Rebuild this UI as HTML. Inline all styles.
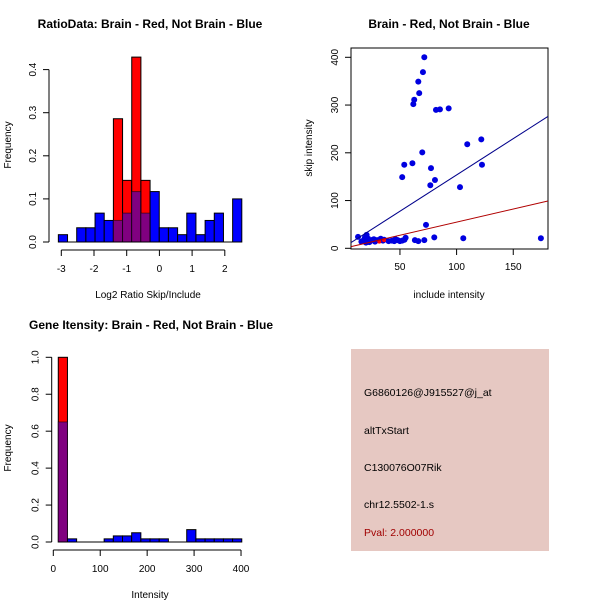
<!DOCTYPE html>
<html><head><meta charset="utf-8"><style>
body{margin:0;background:#fff}
svg{display:block;font-family:"Liberation Sans",sans-serif}
</style></head><body>
<svg id="c" width="600" height="600" xmlns="http://www.w3.org/2000/svg">
<rect width="600" height="600" fill="#fff"/>
<g id="g1"></g>
<g id="g2"></g>
<g id="g3"></g>
<g>
<rect x="351" y="349" width="198" height="202" fill="#e6c8c2"/>
<text x="364" y="396" font-size="10.5">G6860126@J915527@j_at</text>
<text x="364" y="434" font-size="10.5">altTxStart</text>
<text x="364" y="471" font-size="10.5">C130076O07Rik</text>
<text x="364" y="508" font-size="10.5">chr12.5502-1.s</text>
<text x="364" y="536" font-size="10.5" fill="#a00000">Pval: 2.000000</text>
</g>
</svg>
<script>
// ---- chart 1 data
const ratioBlue=[0.017,0,0.033,0.033,0.067,0.05,0.05,0.067,0.117,0.067,0.117,0.033,0.033,0.017,0.067,0.017,0.05,0.067,0,0.1];
const ratioRed=[0,0,0,0,0,0,0.286,0.143,0.429,0.143,0,0,0,0,0,0,0,0,0,0];
const ratioXTicks=[-3,-2,-1,0,1,2];
const ratioYTicks=[0,0.1,0.2,0.3,0.4];
// ---- chart 2 data
const incX=[13,20.6,71.5,70.3,66.2,67,62.6,61.8,81.8,85.3,93,121.8,109.4,69.7,61,53.8,52,77.4,80.9,76.8,122.4,103,73,80.3,71.5,63.2,66.2,105.9,174.4,16,18,20,22,24,26,28,30,33,36,40,43,46,48,50,52,54,55,19,23,27,35,45];
const skipY=[24,28,400,369,349,325,311,302,290,291,293,228,218,201,178,175,149,168,143,132,175,128,49,23,17,17,15,21,21,14,17,12,20,16,18,14,17,20,18,15,16,19,17,15,16,18,22,22,13,19,16,15];
const redX=[31.8,36];
const redY=[14,17];
const scatXTicks=[50,100,150];
const scatYTicks=[0,100,200,300,400];
const blueFit=[1.6,1.52];
const redFit=[-0.2,0.55];
// ---- chart 3 data
const intBlue=[0.65,0.017,0,0,0,0.017,0.033,0.033,0.05,0.017,0.017,0.017,0,0,0.067,0.017,0.017,0.017,0.017,0.017];
const intRed=[1.0,0,0,0,0,0,0,0,0,0,0,0,0,0,0,0,0,0,0,0];
const intXTicks=[0,100,200,300,400];
const intYTicks=[0,0.2,0.4,0.6,0.8,1.0];

const NS="http://www.w3.org/2000/svg";
function mk(p,t,a){const e=document.createElementNS(NS,t);for(const k in a)e.setAttribute(k,a[k]);p.appendChild(e);return e;}
function txt(p,x,y,s,o){const e=mk(p,'text',Object.assign({x:x,y:y,'font-size':10,'text-anchor':'middle'},o||{}));e.textContent=s;return e;}

function hist(g,blue,red,x0,bw,sx,sy){
  for(let i=0;i<blue.length;i++){
    const b=blue[i],r=red[i],hi=Math.max(b,r),lo=Math.min(b,r);
    if(hi<=0)continue;
    const xa=sx(x0+i*bw),xb=sx(x0+(i+1)*bw);
    const top=mk(g,'rect',{x:xa,y:sy(hi),width:xb-xa,height:sy(0)-sy(hi),fill:r>b?'#ff0000':'#0000ff',stroke:'#000','stroke-width':1});
    
    
    if(lo>0){const p=mk(g,'rect',{x:xa,y:sy(lo),width:xb-xa,height:sy(0)-sy(lo),fill:'#800080',stroke:'#000','stroke-opacity':0.5,'stroke-width':1});
      
      }
  }
  mk(g,'line',{x1:sx(x0),x2:sx(x0+blue.length*bw),y1:sy(0),y2:sy(0),stroke:'#000'});
}
function yaxis(g,ticks,sy,x,fmt){
  mk(g,'line',{x1:x,x2:x,y1:sy(ticks[0]),y2:sy(ticks[ticks.length-1]),stroke:'#000'});
  ticks.forEach(t=>{mk(g,'line',{x1:x,x2:x-6,y1:sy(t),y2:sy(t),stroke:'#000'});
    const e=txt(g,x-13,sy(t),fmt(t),{transform:`rotate(-90 ${x-13} ${sy(t)})`});
    
    });
}
function xaxis(g,ticks,sx,y,fmt){
  mk(g,'line',{x1:sx(ticks[0]),x2:sx(ticks[ticks.length-1]),y1:y,y2:y,stroke:'#000'});
  ticks.forEach(t=>{mk(g,'line',{x1:sx(t),x2:sx(t),y1:y,y2:y+6,stroke:'#000'});
    const e=txt(g,sx(t),y+22,fmt(t));
    
    });
}
function title(g,x,y,s,n){const e=txt(g,x,y,s,{'font-size':12,'font-weight':'bold'});}
function label(g,x,y,s,n,rot){const e=txt(g,x,y,s,rot?{transform:`rotate(-90 ${x} ${y})`}:{});}

// chart 1
{const g=document.getElementById('g1');
 const sx=v=>61.3+(v+3)*32.7, sy=v=>242-v*431;
 hist(g,ratioBlue,ratioRed,-3.09,0.2805,sx,sy);
 yaxis(g,ratioYTicks,sy,49,t=>t.toFixed(1));
 xaxis(g,ratioXTicks,sx,250,t=>String(t));
 title(g,150,28,'RatioData: Brain - Red, Not Brain - Blue','chart1-title');
 label(g,148,298,'Log2 Ratio Skip/Include','x-axis-title');
 label(g,11,145,'Frequency','y-axis-title',true);}
// chart 2
{const g=document.getElementById('g2');
 const sx=v=>343.3+v*1.133, sy=v=>248.3-v*0.4775;
 const xmin=6.8,xmax=180.6;
 mk(g,'rect',{x:351,y:48,width:197,height:201,fill:'none',stroke:'#000'});
 const cl=mk(g,'clipPath',{id:'clp'});mk(cl,'rect',{x:351,y:48,width:197,height:201});
 const pg=mk(g,'g',{'clip-path':'url(#clp)'});
 incX.forEach((x,i)=>{const c=mk(pg,'circle',{cx:sx(x),cy:sy(skipY[i]),r:3,fill:'#0000e0'});
   
   });
 redX.forEach((x,i)=>{const c=mk(pg,'circle',{cx:sx(x),cy:sy(redY[i]),r:2,fill:'#ff0000'});
   
   });
 const bl=mk(pg,'line',{x1:sx(xmin),y1:sy(blueFit[0]+blueFit[1]*xmin),x2:sx(xmax),y2:sy(blueFit[0]+blueFit[1]*xmax),stroke:'#00008b'});
 
 
 const rl=mk(pg,'line',{x1:sx(xmin),y1:sy(redFit[0]+redFit[1]*xmin),x2:sx(xmax),y2:sy(redFit[0]+redFit[1]*xmax),stroke:'#b00000'});
 
 
 scatYTicks.forEach(t=>{mk(g,'line',{x1:351,x2:345,y1:sy(t),y2:sy(t),stroke:'#000'});
   const e=txt(g,338,sy(t),String(t),{transform:`rotate(-90 338 ${sy(t)})`});
   
   });
 scatXTicks.forEach(t=>{mk(g,'line',{x1:sx(t),x2:sx(t),y1:249,y2:255,stroke:'#000'});
   const e=txt(g,sx(t),270,String(t));
   
   });
 title(g,449,28,'Brain - Red, Not Brain - Blue','chart2-title');
 label(g,449,298,'include intensity','x-axis-title');
 label(g,312,148,'skip intensity','y-axis-title',true);}
// chart 3
{const g=document.getElementById('g3');
 const sx=v=>53.3+v*0.4693, sy=v=>542-v*184.7;
 hist(g,intBlue,intRed,10.6,19.55,sx,sy);
 yaxis(g,intYTicks,sy,51.7,t=>t.toFixed(1));
 xaxis(g,intXTicks,sx,550,t=>String(t));
 title(g,151,329,'Gene Itensity: Brain - Red, Not Brain - Blue','chart3-title');
 label(g,150,598,'Intensity','x-axis-title');
 label(g,11,448,'Frequency','y-axis-title',true);}
</script>
</body></html>
